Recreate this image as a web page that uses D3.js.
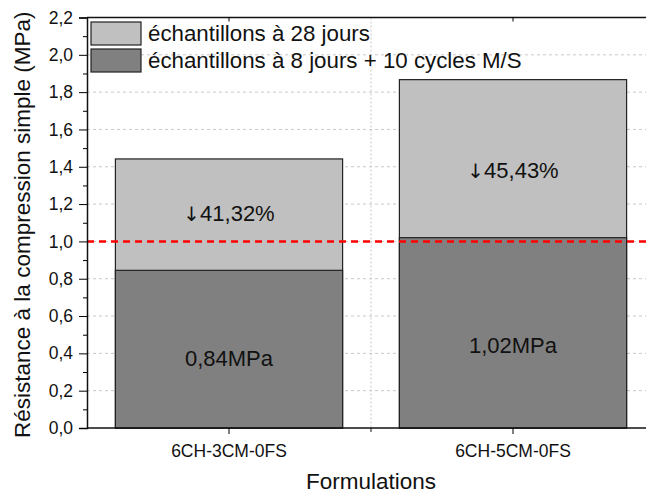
<!DOCTYPE html>
<html><head><meta charset="utf-8">
<script src="https://cdn.jsdelivr.net/npm/d3@7"></script>
<style>body{margin:0;background:#fff}svg{display:block}text{font-family:"Liberation Sans",Arial,sans-serif;fill:#111}</style>
</head><body><svg id="c" width="646" height="495"></svg>
<script>
(function(){
const categories = ["6CH-3CM-0FS", "6CH-5CM-0FS"];
const values28 = [1.442, 1.867];
const valuesCycles = [0.845, 1.02];
const reductionLabels = ["41,32%", "45,43%"];
const valueLabels = ["0,84MPa", "1,02MPa"];
const seriesNames = ["échantillons à 28 jours", "échantillons à 8 jours + 10 cycles M/S"];
const yTicks = [0,0.2,0.4,0.6,0.8,1.0,1.2,1.4,1.6,1.8,2.0,2.2];
const threshold = 1.0;

const svg = d3.select("#c");
const L = 87, R = 655, T = 17.5, B = 428;
const x = d3.scaleBand().domain(categories).range([L, R]).paddingInner(0.2).paddingOuter(0.1);
const y = d3.scaleLinear().domain([0, 2.2]).range([B, T]);
const fmt = v => d3.format(".1f")(v).replace(".", ",");

// grid
svg.append("g").selectAll("line").data(yTicks.slice(1, -1)).join("line")
  .attr("x1", L).attr("x2", R).attr("y1", d => y(d)).attr("y2", d => y(d))
  .attr("stroke", "#c8c8c8").attr("stroke-width", 1).attr("stroke-dasharray", "3,3");
const midX = (x(categories[0]) + x.bandwidth() / 2 + x(categories[1]) + x.bandwidth() / 2) / 2;
svg.append("line").attr("x1", midX).attr("x2", midX).attr("y1", T).attr("y2", B)
  .attr("stroke", "#c8c8c8").attr("stroke-width", 1).attr("stroke-dasharray", "2,2");

// bars
const g = svg.append("g");
g.selectAll("rect.a").data(categories).join("rect").attr("class", "a")
  .attr("x", d => x(d)).attr("width", x.bandwidth())
  .attr("y", (d, i) => y(values28[i])).attr("height", (d, i) => B - y(values28[i]))
  .attr("fill", "#c0c0c0").attr("stroke", "#222").attr("stroke-width", 1.2);
g.selectAll("rect.b").data(categories).join("rect").attr("class", "b")
  .attr("x", d => x(d)).attr("width", x.bandwidth())
  .attr("y", (d, i) => y(valuesCycles[i])).attr("height", (d, i) => B - y(valuesCycles[i]))
  .attr("fill", "#808080").attr("stroke", "#222").attr("stroke-width", 1.2);

// labels in bars
const redOff = [6.5, 19], valOff = [17, 20];
const rt = g.selectAll("text.r").data(categories).join("text").attr("class", "r")
  .attr("x", d => x(d) + x.bandwidth() / 2)
  .attr("y", (d, i) => (y(values28[i]) + y(valuesCycles[i])) / 2 + redOff[i])
  .attr("text-anchor", "middle").attr("font-size", 22);
rt.append("tspan").style("font-family", '"DejaVu Sans"').attr("font-size", 20).text("↓");
rt.append("tspan").text((d, i) => reductionLabels[i]);
g.selectAll("text.v").data(categories).join("text").attr("class", "v")
  .attr("x", d => x(d) + x.bandwidth() / 2)
  .attr("y", (d, i) => (y(valuesCycles[i]) + B) / 2 + valOff[i])
  .attr("text-anchor", "middle").attr("font-size", 22).text((d, i) => valueLabels[i]);

// threshold line
svg.append("line").attr("x1", L).attr("x2", R).attr("y1", y(threshold)).attr("y2", y(threshold))
  .attr("stroke", "#ff0000").attr("stroke-width", 2.5).attr("stroke-dasharray", "7,5");

// axes
const yAxis = svg.append("g").attr("transform", `translate(${L},0)`)
  .call(d3.axisLeft(y).tickValues(yTicks).tickFormat(fmt).tickSize(8).tickPadding(6));
yAxis.select(".domain").attr("stroke", "#111").attr("stroke-width", 1.5);
yAxis.selectAll("text").attr("font-size", 17.5).style("font-family", '"Liberation Sans",Arial,sans-serif').attr("fill", "#111");
const minor = d3.range(0.1, 2.2, 0.2);
svg.append("g").attr("transform", `translate(${L},0)`)
  .call(d3.axisLeft(y).tickValues(minor).tickFormat("").tickSize(4))
  .select(".domain").remove();

const xAxis = svg.append("g").attr("transform", `translate(0,${B})`)
  .call(d3.axisBottom(x).tickSize(6).tickPadding(11));
xAxis.select(".domain").attr("stroke", "#111").attr("stroke-width", 1.5).attr("d", `M${L},0H${R}`);
xAxis.selectAll("text").attr("font-size", 17.5).style("font-family", '"Liberation Sans",Arial,sans-serif').attr("fill", "#111");
svg.append("line").attr("x1", midX).attr("x2", midX).attr("y1", B).attr("y2", B + 4).attr("stroke", "#111");

// top axis
const topAxis = svg.append("g").attr("transform", `translate(0,${T})`)
  .call(d3.axisTop(x).tickSize(-4).tickFormat(""));
topAxis.select(".domain").attr("stroke", "#111").attr("stroke-width", 1.5).attr("d", `M${L},0H${R}`);

// titles
svg.append("text").attr("transform", `translate(30,${(T + B) / 2 + 2}) rotate(-90)`)
  .attr("text-anchor", "middle").attr("font-size", 22.5).text("Résistance à la compression simple (MPa)");
svg.append("text").attr("x", midX).attr("y", 489).attr("text-anchor", "middle").attr("font-size", 22.5).text("Formulations");

// legend
const leg = svg.append("g");
const legColors = ["#c0c0c0", "#808080"];
seriesNames.forEach((s, i) => {
  leg.append("rect").attr("x", 91).attr("y", 22 + i * 27).attr("width", 50).attr("height", 23)
    .attr("fill", legColors[i]).attr("stroke", "#222").attr("stroke-width", 1.2);
  leg.append("text").attr("x", 148).attr("y", 41 + i * 26.5).attr("font-size", 22.3).text(s);
});
})();
</script></body></html>
